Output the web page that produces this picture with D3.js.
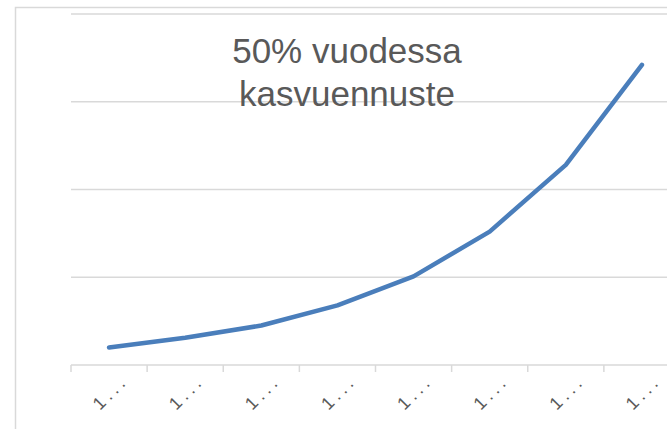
<!DOCTYPE html>
<html>
<head>
<meta charset="utf-8">
<script src="https://cdn.jsdelivr.net/npm/d3@7"></script>
<style>
  body { margin: 0; background: #fff; overflow: hidden; }
  .grid line { stroke: #d9d9d9; stroke-width: 1.5; }
  .x-axis path, .x-axis line { stroke: #d9d9d9; stroke-width: 1.5; }
  .x-axis text { fill: #595959; font-family: "Liberation Sans", Arial, sans-serif; font-size: 18px; letter-spacing: 4px; }
  .title { fill: #595959; font-family: "Liberation Sans", Arial, sans-serif; font-size: 35px; }
</style>
</head>
<body>
<div id="chart"></div>
<script>
// kategoriat (tekstit katkaistu Excelissä muotoon "1...")
const categories = ['1...', '1...', '1...', '1...', '1...', '1...', '1...', '1...'];
// 50 % vuosikasvu, luettu kuvasta
const values = [0.2, 0.31, 0.45, 0.68, 1.01, 1.52, 2.28, 3.42];
const yTicks = [0, 1, 2, 3, 4];
const titleLines = ['50% vuodessa', 'kasvuennuste'];

const width = 667;
const height = 429;
const margins = { top: 14, right: -13, bottom: 64, left: 71 };

const svg = d3.select('#chart')
  .append('svg')
    .attr('width', width)
    .attr('height', height);

// chart area border (continues past the picture's edge)
svg.append('rect')
  .attr('x', 15.5)
  .attr('y', 7.5)
  .attr('width', 700)
  .attr('height', 450)
  .attr('fill', 'none')
  .attr('stroke', '#d9d9d9')
  .attr('stroke-width', 1.5);

const x = d3.scaleBand()
  .domain(d3.range(categories.length))
  .range([margins.left, width - margins.right]);

const y = d3.scaleLinear()
  .domain([0, 4])
  .range([height - margins.bottom, margins.top]);

// gridlines
svg.append('g')
  .attr('class', 'grid')
  .selectAll('line')
  .data(yTicks.slice(1))
  .join('line')
    .attr('x1', margins.left)
    .attr('x2', width - margins.right)
    .attr('y1', d => y(d))
    .attr('y2', d => y(d));

// x axis
const xAxis = svg.append('g')
  .attr('class', 'x-axis')
  .attr('transform', `translate(0,${y(0)})`);

xAxis.append('line')
  .attr('x1', margins.left)
  .attr('x2', width - margins.right);

xAxis.selectAll('.tick-mark')
  .data(d3.range(categories.length + 1))
  .join('line')
    .attr('class', 'tick-mark')
    .attr('x1', i => margins.left + i * x.step())
    .attr('x2', i => margins.left + i * x.step())
    .attr('y1', 0)
    .attr('y2', 7);

// letter-spacing adds a trailing gap, so shift the anchor a bit further
xAxis.selectAll('text')
  .data(categories)
  .join('text')
    .attr('text-anchor', 'end')
    .attr('transform', (d, i) => `translate(${x(i) + x.bandwidth() / 2 + 20},${17}) rotate(-45)`)
    .text(d => d);

// line
const line = d3.line()
  .x((d, i) => x(i) + x.bandwidth() / 2)
  .y(d => y(d));

svg.append('path')
  .datum(values)
  .attr('d', line)
  .attr('fill', 'none')
  .attr('stroke', '#4a7ebb')
  .attr('stroke-width', 4.5)
  .attr('stroke-linecap', 'round')
  .attr('stroke-linejoin', 'round');

// title
svg.append('text')
  .attr('class', 'title')
  .attr('text-anchor', 'middle')
  .selectAll('tspan')
  .data(titleLines)
  .join('tspan')
    .attr('x', 347)
    .attr('y', (d, i) => 63 + i * 43)
    .text(d => d);
</script>
</body>
</html>
